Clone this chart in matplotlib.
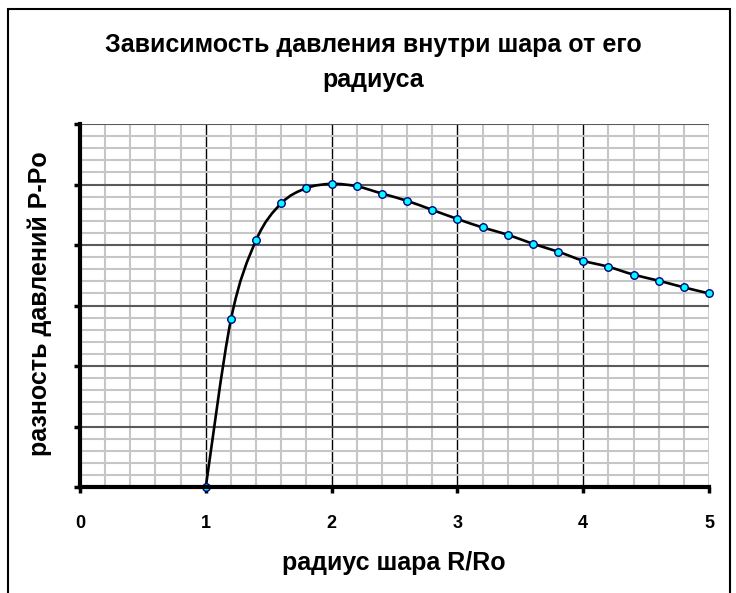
"""
Pressure inside a balloon vs. its radius (Excel-style chart).
"""
import numpy as np
from matplotlib import pyplot as plt
from matplotlib.path import Path
from matplotlib.patches import PathPatch, Rectangle

plt.rcParams['font.family'] = ['Liberation Sans', 'DejaVu Sans']

radius = [1.0, 1.2, 1.4, 1.6, 1.8, 2.0, 2.2, 2.4, 2.6, 2.8, 3.0,
          3.2, 3.4, 3.6, 3.8, 4.0, 4.2, 4.4, 4.6, 4.8, 5.0]
pressure = [0.0, 2.77, 4.08, 4.69, 4.94, 5.01, 4.97, 4.85, 4.73, 4.58, 4.43,
            4.29, 4.17, 4.02, 3.89, 3.74, 3.64, 3.51, 3.41, 3.30, 3.20]
xticks = [0, 1, 2, 3, 4, 5]
title_lines = ["Зависимость давления внутри шара от его", "радиуса"]
xlabel = "радиус шара R/Ro"
ylabel = "разность давлений P-Po"


def smooth_path(x, y, k=1 / 6):
    # Bezier path like Excel's "smoothed line"
    x = np.asarray(x)
    y = np.asarray(y)
    verts = [(x[0], y[0])]
    codes = [Path.MOVETO]
    n = len(x)
    for i in range(n - 1):
        x0, y0 = (x[i - 1], y[i - 1]) if i > 0 else (x[i], y[i])
        x3, y3 = (x[i + 2], y[i + 2]) if i + 2 < n else (x[i + 1], y[i + 1])
        c1 = (x[i] + k * (x[i + 1] - x0), y[i] + k * (y[i + 1] - y0))
        c2 = (x[i + 1] - k * (x3 - x[i]), y[i + 1] - k * (y3 - y[i]))
        verts += [c1, c2, (x[i + 1], y[i + 1])]
        codes += [Path.CURVE4] * 3
    return Path(verts, codes)


fig = plt.figure(figsize=(7.36, 5.93), dpi=100)
ax = fig.add_axes([80 / 736, 1 - 487 / 593, 629 / 736, 363 / 593])

ax.set_xlim(0, 5)
ax.set_ylim(0, 6)
ax.set_xticks(xticks)
ax.set_xticks(np.arange(0, 5.01, 0.2), minor=True)
ax.set_yticks(np.arange(0, 6.01, 1))
ax.set_yticks(np.arange(0, 6.01, 0.2), minor=True)
ax.set_yticklabels([])

ax.grid(which='minor', color='#c6c6c6', lw=1.5, zorder=0)
ax.grid(which='major', axis='y', color='#5a5a5a', lw=1.5, zorder=0)
ax.grid(which='major', axis='x', color='black', lw=1.0, zorder=0)
ax.set_axisbelow(True)

ax.add_patch(PathPatch(smooth_path(radius, pressure), fill=False,
                       color='black', lw=1.9, zorder=3))
ax.plot(radius, pressure, ls='none', marker='o', ms=5.4,
        mfc='#00ffff', mec='#000080', mew=1.0, zorder=4, clip_on=False)

for s in ['top', 'right']:
    ax.spines[s].set_visible(False)
for s in ['left', 'bottom']:
    ax.spines[s].set_linewidth(3)
    ax.spines[s].set_zorder(5)
ax.tick_params(which='major', direction='out', length=4, width=2.5,
               labelsize=13, pad=16)
ax.tick_params(which='minor', length=0)
for lbl in ax.get_xticklabels():
    lbl.set_fontweight('bold')

fig.text(373 / 736, 1 - 52 / 593, title_lines[0], ha='center', va='baseline',
         fontsize=18, fontweight='bold')
fig.text(373 / 736, 1 - 87 / 593, title_lines[1], ha='center', va='baseline',
         fontsize=18, fontweight='bold')
fig.text(394 / 736, 1 - 563 / 593, xlabel, ha='center', va='center',
         fontsize=18, fontweight='bold')
fig.text(40 / 736, 1 - 304 / 593, ylabel, ha='center', va='center',
         rotation=90, fontsize=18, fontweight='bold')

fig.patches.append(Rectangle((8 / 736, -0.05), 722 / 736, 1.05 - 9 / 593,
                             transform=fig.transFigure, fill=False,
                             ec='black', lw=1.5))

plt.savefig("out.png", dpi=100)
